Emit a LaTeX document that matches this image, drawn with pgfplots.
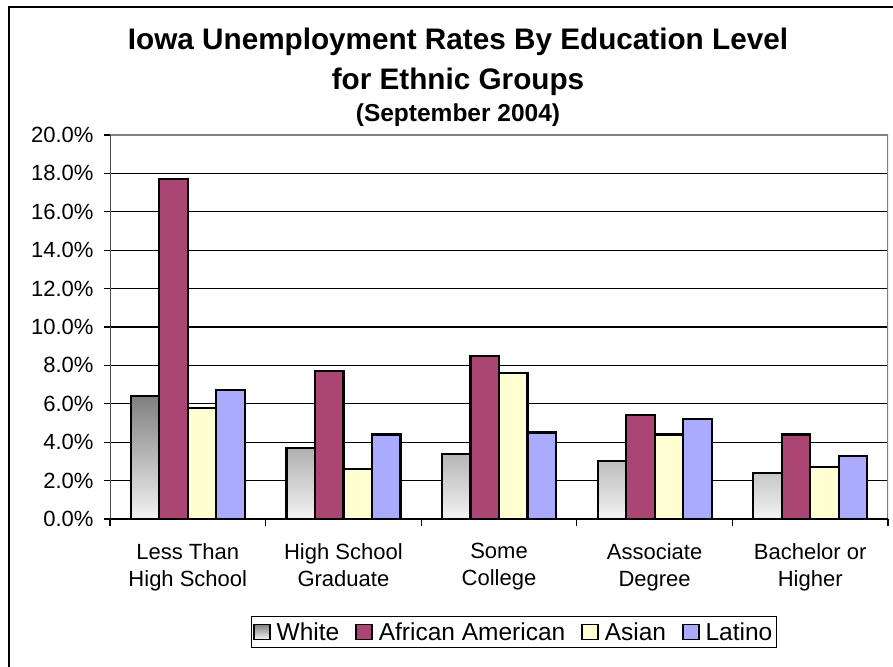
\documentclass[border=0pt]{standalone}
\usepackage{fontspec}
\setmainfont{Liberation Sans}
\usepackage{pgfplots}
\pgfplotsset{compat=1.18}
\definecolor{aacol}{RGB}{171,70,116}
\definecolor{ascol}{RGB}{255,255,210}
\definecolor{lacol}{RGB}{170,170,255}
\begin{document}
\begin{tikzpicture}[x=1bp,y=1bp]
\useasboundingbox (0,0) rectangle (893,667);
\draw[black, line width=1.2bp] (9,-5) -- (9,660) -- (900,660);
\node[anchor=base, inner sep=0pt, font=\fontsize{29.7bp}{34bp}\selectfont\bfseries] at (458,617) {Iowa Unemployment Rates By Education Level};
\node[anchor=base, inner sep=0pt, font=\fontsize{29.7bp}{34bp}\selectfont\bfseries] at (458,577) {for Ethnic Groups};
\node[anchor=base, inner sep=0pt, font=\fontsize{24.5bp}{28bp}\selectfont\bfseries] at (458,545) {(September 2004)};
\begin{axis}[
  at={(110bp,148bp)}, anchor=south west, scale only axis,
  width=778bp, height=384bp,
  ybar=0pt, bar width=28.5bp,
  xmin=-0.5, xmax=4.5, ymin=0, ymax=20,
  ytick={0,2,...,20},
  xtick={0,...,4},
  xticklabels={{Less Than\\High School},{High School\\Graduate},{Some\\College},{Associate\\Degree},{Bachelor or\\Higher}},
  minor xtick={-0.5,0.5,...,4.5},
  tick align=outside, major tick length=6bp, minor tick length=7bp,
  xtick pos=bottom, ytick pos=left,
  major x tick style={draw=none},
  minor x tick style={draw=black, line width=1.2bp},
  ytick style={draw=black, line width=1.2bp},
  ymajorgrids, major grid style={draw=black, line width=1.1bp},
  axis line style={draw=none},
  yticklabel={\pgfmathprintnumber[fixed, fixed zerofill, precision=1]{\tick}\%},
  /pgf/number format/assume math mode=true,
  ticklabel style={font=\fontsize{22bp}{27bp}\selectfont},
  yticklabel style={xshift=-7bp},
  xticklabel style={align=center, yshift=-15bp},
  legend style={at={(axis description cs:0.519,-0.294)}, anchor=center,
    legend columns=4, draw=black, line width=1.2bp,
    inner xsep=2bp, inner ysep=4bp,
    font=\fontsize{24.5bp}{28bp}\selectfont,
    /tikz/every odd column/.append style={column sep=4bp},
    /tikz/every even column/.append style={column sep=14bp}},
  legend image code/.code={\draw[#1, line width=1.5bp] (0bp,-7.5bp) rectangle (16bp,7.5bp);},
]
\addplot[draw=black, line width=2.2bp, top color=black!50, bottom color=black!5] coordinates {(0,6.4) (1,3.7) (2,3.4) (3,3.0) (4,2.4)};
\addplot[draw=black, line width=2.2bp, fill=aacol] coordinates {(0,17.7) (1,7.7) (2,8.5) (3,5.4) (4,4.4)};
\addplot[draw=black, line width=2.2bp, fill=ascol] coordinates {(0,5.8) (1,2.6) (2,7.6) (3,4.4) (4,2.7)};
\addplot[draw=black, line width=2.2bp, fill=lacol] coordinates {(0,6.7) (1,4.4) (2,4.5) (3,5.2) (4,3.3)};
\legend{White,African American,Asian,Latino}
\draw[black!50, line width=1.4bp] (rel axis cs:0,1) -- (rel axis cs:1,1) -- (rel axis cs:1,0);
\draw[black!70, line width=1.4bp] (rel axis cs:0,1) -- (rel axis cs:0,0);
\draw[black, line width=1.4bp] (rel axis cs:0,0) -- (rel axis cs:1,0);
\end{axis}
\end{tikzpicture}
\end{document}
